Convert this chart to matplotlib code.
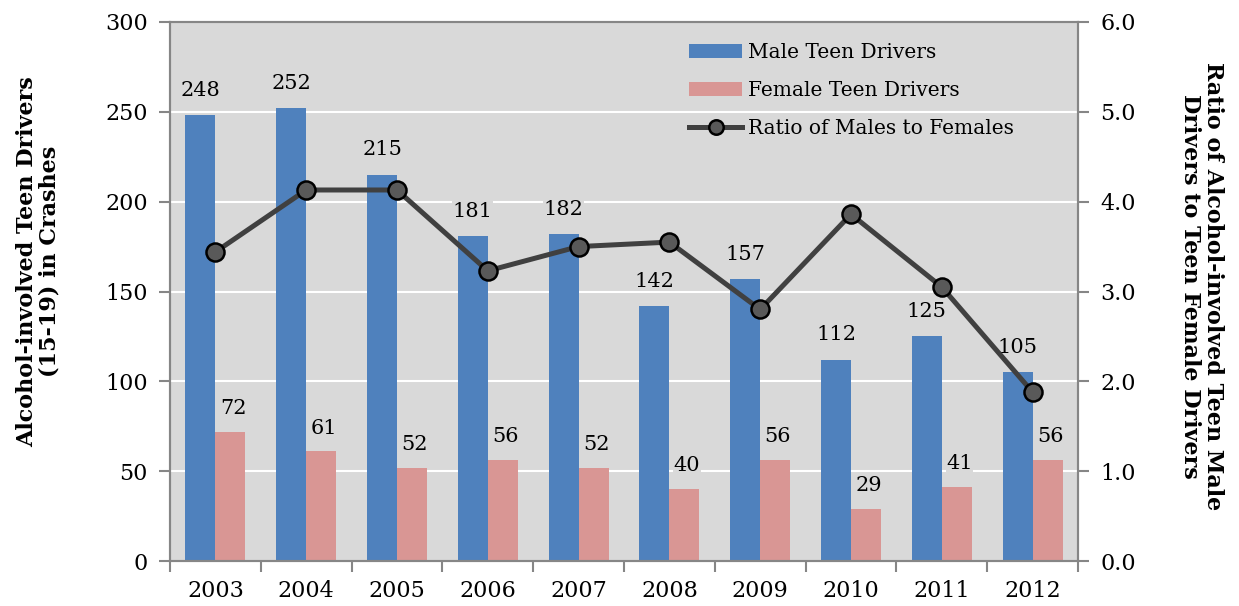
import matplotlib.pyplot as plt
import numpy as np
from matplotlib.ticker import FormatStrFormatter, FixedLocator

plt.rcParams['font.family'] = ['DejaVu Serif']

years = ['2003', '2004', '2005', '2006', '2007', '2008', '2009', '2010', '2011', '2012']
male = [248, 252, 215, 181, 182, 142, 157, 112, 125, 105]
female = [72, 61, 52, 56, 52, 40, 56, 29, 41, 56]
ratio = [3.44, 4.13, 4.13, 3.23, 3.50, 3.55, 2.80, 3.86, 3.05, 1.88]

blue = '#4F81BD'
pink = '#D99694'
bg = '#D9D9D9'
spine = '#868686'

fig = plt.figure(figsize=(12.39, 6.06), dpi=100)
ax1 = fig.add_axes([170 / 1239, 45 / 606, 908 / 1239, 539 / 606])
ax1.set_facecolor(bg)

x = np.arange(len(years))
w = 0.33
b1 = ax1.bar(x - w / 2, male, w, color=blue, label='Male Teen Drivers', zorder=2)
b2 = ax1.bar(x + w / 2, female, w, color=pink, label='Female Teen Drivers', zorder=2)

for xi, v in zip(x, male):
    ax1.annotate(str(v), (xi - w / 2, v), xytext=(0, 11), textcoords='offset points',
                 ha='center', va='bottom', fontsize=15, zorder=3,
                 bbox=dict(facecolor=bg, edgecolor='none', pad=0.5))
for xi, v in zip(x, female):
    ax1.annotate(str(v), (xi + w / 2, v), xytext=(2, 10), textcoords='offset points',
                 ha='center', va='bottom', fontsize=15, zorder=3,
                 bbox=dict(facecolor=bg, edgecolor='none', pad=0.5))

ax1.set_xlim(-0.5, len(years) - 0.5)
ax1.set_ylim(0, 300)
ax1.set_yticks(range(0, 301, 50))
ax1.yaxis.grid(True, color='white', linewidth=1.5, zorder=0)
ax1.set_axisbelow(True)
ax1.set_xticks(x)
ax1.set_xticklabels(years)
ax1.xaxis.set_minor_locator(FixedLocator(np.arange(-0.5, len(years), 1)))
ax1.tick_params(axis='x', which='major', length=0, pad=14, labelsize=16)
ax1.tick_params(axis='x', which='minor', length=8, color=spine, width=1.5)
ax1.tick_params(axis='y', length=8, color=spine, width=1.5, labelsize=16, pad=8)

ax1.set_ylabel('Alcohol-involved Teen Drivers\n(15-19) in Crashes', fontsize=16,
               fontweight='bold', va='center', linespacing=1.05)
ax1.yaxis.set_label_coords(-0.145, 0.555)

ax2 = ax1.twinx()
ln, = ax2.plot(x, ratio, color='#404040', linewidth=3.6, marker='o', markersize=13,
               markerfacecolor='#595959', markeredgecolor='black', markeredgewidth=1.8,
               label='Ratio of Males to Females', zorder=4)
ax2.set_ylim(0, 6)
ax2.set_yticks(np.arange(0, 6.1, 1))
ax2.yaxis.set_major_formatter(FormatStrFormatter('%.1f'))
ax2.tick_params(axis='y', length=8, color=spine, width=1.5, labelsize=16, pad=8)
ax2.set_ylabel('Ratio of Alcohol-involved Teen Male\nDrivers to Teen Female Drivers',
               fontsize=16, fontweight='bold', rotation=270, va='center', linespacing=1.05)
ax2.yaxis.set_label_coords(1.136, 0.51)

for ax in (ax1, ax2):
    for s in ax.spines.values():
        s.set_color(spine)
        s.set_linewidth(1.5)

ax1.legend([b1, b2, ln], ['Male Teen Drivers', 'Female Teen Drivers', 'Ratio of Males to Females'],
           loc='upper left', bbox_to_anchor=(0.552, 0.995), frameon=False, fontsize=14.5,
           handlelength=2.6, labelspacing=0.95, handletextpad=0.3, markerscale=0.8)
# legend over line
leg = ax1.get_legend()
leg.remove()
ax2.add_artist(leg)

fig.savefig('out.png', dpi=100)
